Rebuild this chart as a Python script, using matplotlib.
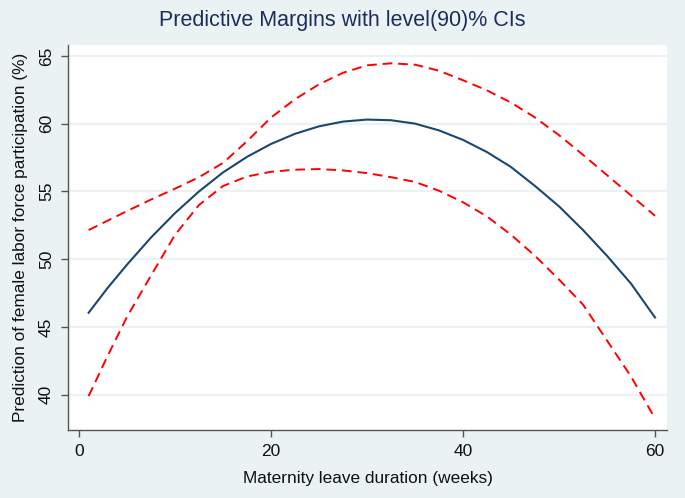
import matplotlib
matplotlib.use("Agg")
import matplotlib.pyplot as plt

weeks = [1, 3, 5, 7.5, 10, 12.5, 15, 17.5, 20, 22.5, 25, 27.5, 30, 32.5, 35,
         37.5, 40, 42.5, 45, 47.5, 50, 52.5, 55, 57.5, 60]
margin = [46.05, 47.9, 49.6, 51.6, 53.4, 55.0, 56.4, 57.55, 58.5, 59.25, 59.8,
          60.15, 60.3, 60.25, 60.0, 59.5, 58.8, 57.9, 56.8, 55.4, 53.9, 52.15,
          50.25, 48.2, 45.7]
upper = [52.15, 52.85, 53.55, 54.4, 55.2, 56.05, 57.1, 58.7, 60.45, 61.8, 62.9,
         63.75, 64.3, 64.45, 64.35, 63.9, 63.2, 62.45, 61.55, 60.45, 59.15, 57.7,
         56.2, 54.7, 53.2]
lower = [39.9, 42.9, 45.75, 48.8, 51.8, 54.0, 55.4, 56.1, 56.45, 56.6, 56.65,
         56.55, 56.35, 56.05, 55.7, 55.05, 54.2, 53.15, 51.8, 50.25, 48.5, 46.65,
         44.0, 41.35, 38.25]

xticks = [0, 20, 40, 60]
yticks = [40, 45, 50, 55, 60, 65]

plt.rcParams['font.family'] = ['Liberation Sans', 'DejaVu Sans']

bg = '#EAF2F3'
fig = plt.figure(figsize=(6.85, 4.98), dpi=100, facecolor=bg)
ax = fig.add_axes([68/685, 1-430/498, (667-68)/685, (430-45)/498])
ax.set_facecolor('white')

for yt in yticks:
    ax.axhline(yt, color='#EAF2F3', lw=1.5, zorder=0)

ax.plot(weeks, margin, color='#1A476F', lw=1.5, zorder=3, solid_joinstyle='round')
ax.plot(weeks, upper, color='#FF0000', lw=1.4, dashes=(5, 3), zorder=2, dash_joinstyle='round')
ax.plot(weeks, lower, color='#FF0000', lw=1.4, dashes=(5, 3), zorder=2, dash_joinstyle='round')

ax.set_xlim(-1.15, 61.25)
ax.set_ylim(37.4, 65.8)
ax.set_xticks(xticks)
ax.set_yticks(yticks)
ax.set_yticklabels([str(v) for v in yticks], rotation=90, va='center')

for s in ['top', 'right']:
    ax.spines[s].set_visible(False)
for s in ['left', 'bottom']:
    ax.spines[s].set_color('#555555')
    ax.spines[s].set_linewidth(1.0)
ax.tick_params(axis='both', direction='out', length=5, width=1, color='#555555',
               labelsize=12.5, labelcolor='#111111')
ax.tick_params(axis='x', pad=5)
ax.tick_params(axis='y', pad=5)

ax.set_xlabel('Maternity leave duration (weeks)', fontsize=12.4, color='#111111', labelpad=9)
ax.set_ylabel('Prediction of female labor force participation (%)', fontsize=12.4,
              color='#111111', labelpad=8)
fig.suptitle('Predictive Margins with level(90)% CIs', fontsize=15.5, color='#1E2D5C',
             x=0.5, y=0.98)

fig.savefig('out.png', dpi=100, facecolor=bg)
